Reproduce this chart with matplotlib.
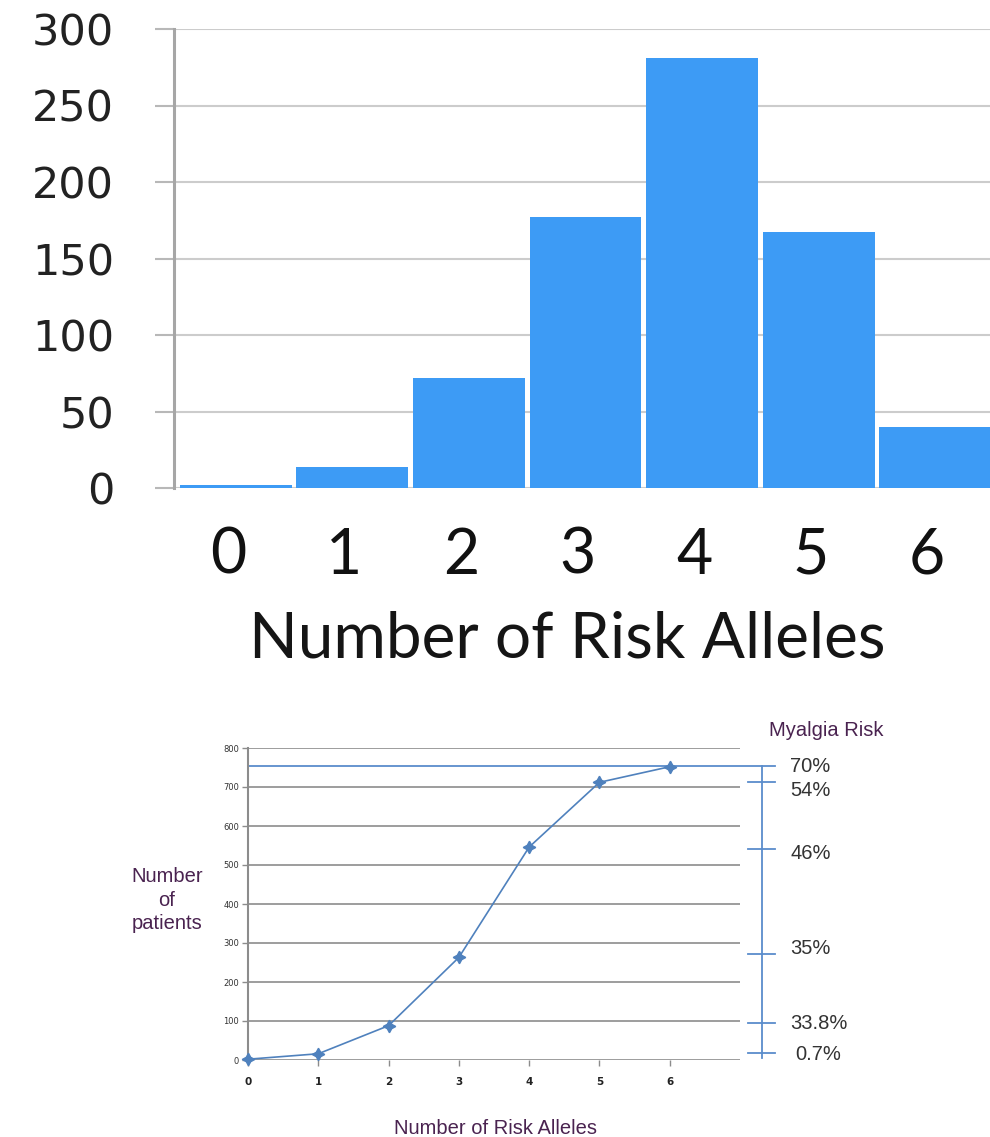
import matplotlib.pyplot as plt
import matplotlib.transforms as mtransforms

# data
alleles = [0, 1, 2, 3, 4, 5, 6]
patients = [2, 14, 72, 177, 281, 167, 40]
cumulative = [2, 16, 88, 263, 546, 712, 752]
risk_levels = [18, 94, 273, 541, 712, 755]
risk_labels = ["0.7%", "33.8%", "35%", "46%", "54%", "70%"]

W, H = 990, 1137
fig = plt.figure(figsize=(W / 100, H / 100), dpi=100)


def fx(x):
    return x / W


def fy(y):
    return 1 - y / H


# ---- top: histogram ----
ax = fig.add_axes([fx(174), fy(488), 1 - fx(174), fy(29) - fy(488)])
ax.bar(alleles, patients, width=0.96, color='#3d9bf5', zorder=2)
ax.set_xlim(-0.53, 6.47)
ax.set_ylim(0, 300)
ax.set_yticks(range(0, 301, 50))
ax.set_xticks(alleles)
ax.yaxis.grid(True, color='#cccccc', lw=1.5, zorder=0)
ax.set_axisbelow(True)
for s in ['top', 'right', 'bottom']:
    ax.spines[s].set_visible(False)
ax.spines['left'].set_color('#a6a6a6')
ax.spines['left'].set_linewidth(2.2)
ax.tick_params(axis='y', length=14, width=1.5, color='#b8b8b8', pad=29,
               labelsize=31, labelcolor='#222222')
ax.tick_params(axis='x', length=0, pad=28, labelsize=45, labelcolor='#111111')
shift = mtransforms.ScaledTranslation(-8 / 100, 0, fig.dpi_scale_trans)
for lbl in ax.get_xticklabels():
    lbl.set_family('Lato')
    lbl.set_transform(lbl.get_transform() + shift)
fig.text(fx(567), fy(657), "Number of Risk Alleles", ha='center', va='baseline',
         fontsize=46, family='Lato', color='#151515')

# ---- bottom: cumulative line ----
bx = fig.add_axes([fx(248), fy(1060), fx(740) - fx(248), fy(748) - fy(1060)])
bx.plot(alleles, cumulative, color='#4f81bd', lw=1.2, marker=(4, 1, 0), ms=9,
        zorder=3, clip_on=False)
bx.set_xlim(0, 7)
bx.set_ylim(0, 800)
bx.set_xticks(alleles)
bx.set_yticks(range(0, 801, 100))
bx.yaxis.grid(True, color='#8c8c8c', lw=1.2)
bx.set_axisbelow(True)
for s in ['top', 'right', 'bottom']:
    bx.spines[s].set_visible(False)
bx.spines['left'].set_color('#8c8c8c')
bx.spines['left'].set_linewidth(1.5)
bx.tick_params(axis='y', length=4.3, width=1, color='#8c8c8c', pad=2,
               labelsize=6, labelcolor='#333333')
bx.tick_params(axis='x', length=4.3, width=1, color='#8c8c8c', pad=8,
               labelsize=7.5, labelcolor='#222222')
for lbl in bx.get_xticklabels():
    lbl.set_fontweight('bold')

# myalgia risk bracket
trans = mtransforms.blended_transform_factory(bx.transAxes, bx.transData)
bcol = '#5a8ccc'
bx.plot([0, 1.071], [risk_levels[-1]] * 2, transform=trans, clip_on=False,
        color=bcol, lw=1.3)
bx.plot([1.045, 1.045], [5, risk_levels[-1]], transform=trans, clip_on=False,
        color=bcol, lw=1.3)
for lv in risk_levels[:-1]:
    bx.plot([1.016, 1.071], [lv, lv], transform=trans, clip_on=False,
            color=bcol, lw=1.3)
label_dy = [-2, 0, 5, -4, -8, -1]
label_dx = [5, 0, 0, 0, 0, 0]
for lv, txt, dx, dy in zip(risk_levels, risk_labels, label_dx, label_dy):
    bx.annotate(txt, xy=(1.102, lv), xycoords=trans, xytext=(dx, dy),
                textcoords='offset pixels', va='center', ha='left',
                fontsize=14.5, family='Liberation Sans', color='#333333')

fig.text(fx(826), fy(730), "Myalgia Risk", ha='center', va='center',
         fontsize=14.5, family='Liberation Sans', color='#4a2350')
fig.text(fx(167), fy(900), "Number\nof\npatients", ha='center', va='center',
         fontsize=14.5, family='Liberation Sans', color='#4a2350', linespacing=1.3)
fig.text(fx(495), fy(1128), "Number of Risk Alleles", ha='center', va='center',
         fontsize=14.5, family='Liberation Sans', color='#4a2350')

fig.savefig('out.png', dpi=100)
